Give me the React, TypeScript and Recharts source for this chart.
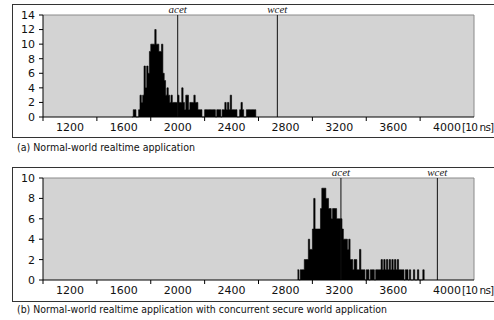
import React from 'react';
import { ComposedChart, Area, XAxis, YAxis, CartesianGrid, ReferenceLine } from 'recharts';

const BIN_WIDTH = 10;

const binStartA = 1660;
const countsA = [
  0, 1, 1, 0, 0, 1, 3, 2, 3, 7,
  4, 7, 6, 9, 10, 10, 10, 12, 10, 10,
  9, 9, 10, 6, 5, 3, 4, 3, 2, 3,
  2, 2, 2, 2, 3, 2, 2, 4, 2, 1,
  3, 3, 1, 2, 2, 2, 3, 2, 2, 1,
  1, 1, 0, 0, 1, 1, 1, 1, 1, 1,
  1, 1, 0, 1, 1, 1, 0, 1, 1, 2,
  1, 2, 1, 3, 1, 1, 1, 1, 0, 0,
  1, 2, 1, 0, 0, 1, 1, 1, 1, 1,
  1, 1,
];

const binStartB = 2890;
const countsB = [
  1, 0, 1, 1, 1, 2, 2, 2, 4, 3,
  3, 5, 8, 5, 5, 5, 5, 7, 9, 9,
  9, 8, 8, 7, 7, 6, 7, 7, 7, 6,
  6, 6, 6, 5, 4, 4, 4, 3, 4, 2,
  2, 1, 2, 2, 1, 1, 3, 1, 1, 1,
  0, 1, 1, 0, 1, 1, 1, 0, 1, 1,
  1, 1, 2, 1, 2, 1, 2, 1, 2, 1,
  2, 1, 2, 1, 2, 1, 1, 1, 1, 0,
  1, 1, 0, 1, 0, 0, 1, 0, 0, 1,
  0, 0, 0, 1,
];

const xDomain: [number, number] = [1000, 4200];
const xTickValues = [1000, 1200, 1400, 1600, 1800, 2000, 2200, 2400, 2600, 2800, 3000, 3200, 3400, 3600, 3800, 4000, 4200];
const xLabelValues = [1200, 1600, 2000, 2400, 2800, 3200, 3600, 4000];
const xMarkValues = [1000, 1400, 1800, 2200, 2600, 3000, 3400, 3800];
const unitTickValue = 4200;
const unitLabel = '[10 ns]';

const yTicksA = [0, 2, 4, 6, 8, 10, 12, 14];
const yTicksB = [0, 2, 4, 6, 8, 10];

const acetA = 2000;
const wcetA = 2740;
const acetB = 3212;
const wcetB = 3928;

const captionA = '(a) Normal-world realtime application';
const captionB = '(b) Normal-world realtime application with concurrent secure world application';

// step histogram rows: each bin starts at its edge; a closing row ends the last bin
const toRows = (start: number, counts: number[]) => {
  const rows = counts.map((n, i) => ({ t: start + i * BIN_WIDTH, n }));
  rows.push({ t: start + counts.length * BIN_WIDTH, n: 0 });
  return rows;
};

const dataA = toRows(binStartA, countsA);
const dataB = toRows(binStartB, countsB);

const SANS = 'DejaVu Sans';

const XTick = (props: any) => {
  const { x, y, payload } = props;
  const v = payload.value;
  const axisY = y - 7;
  if (xMarkValues.includes(v)) {
    return <line x1={x} x2={x} y1={axisY} y2={axisY + 4} stroke="#000" strokeWidth={1} />;
  }
  if (xLabelValues.includes(v)) {
    return (
      <text x={x} y={axisY + 14} textAnchor="middle" fontSize={11} fontFamily={SANS} fill="#111">
        {v}
      </text>
    );
  }
  if (v === unitTickValue) {
    return (
      <text x={x - 12} y={axisY + 14} fontSize={10.5} fontFamily={SANS} fill="#111" letterSpacing={-0.8}>
        {unitLabel}
      </text>
    );
  }
  return <g />;
};

const RefTag = (props: any) => {
  const { viewBox, text } = props;
  if (!viewBox) return null;
  return (
    <text x={viewBox.x} y={viewBox.y - 2} textAnchor="middle" fontStyle="italic" fontFamily="Liberation Serif" fontSize={11} fill="#222">
      {text}
    </text>
  );
};

const Panel = ({ data, yMax, yTicks, acet, wcet }: any) => (
  <ComposedChart width={494} height={140} data={data} margin={{ top: 15, right: 20, bottom: 0, left: 0 }}>
    <CartesianGrid fill="#d3d3d3" horizontal={false} vertical={false} />
    <XAxis
      dataKey="t"
      type="number"
      domain={xDomain}
      ticks={xTickValues}
      interval={0}
      height={23}
      tickLine={false}
      tickSize={4}
      tickMargin={3}
      axisLine={{ stroke: '#000', strokeWidth: 1 }}
      tick={<XTick />}
    />
    <YAxis
      type="number"
      domain={[0, yMax]}
      ticks={yTicks}
      interval={0}
      width={43}
      tickSize={4}
      tickMargin={4}
      axisLine={{ stroke: '#000', strokeWidth: 1 }}
      tickLine={{ stroke: '#000', strokeWidth: 1 }}
      tick={{ fontSize: 11, fill: '#111', fontFamily: SANS }}
    />
    <ReferenceLine y={yMax} stroke="#8a8a8a" strokeWidth={1} />
    <ReferenceLine x={xDomain[1]} stroke="#8a8a8a" strokeWidth={1} />
    <Area
      dataKey="n"
      type="stepAfter"
      fill="#000"
      fillOpacity={1}
      stroke="#000"
      strokeWidth={0.6}
      dot={false}
      activeDot={false}
      isAnimationActive={false}
    />
    <ReferenceLine x={acet} stroke="#111" strokeWidth={1} label={<RefTag text="acet" />} />
    <ReferenceLine x={wcet} stroke="#111" strokeWidth={1} label={<RefTag text="wcet" />} />
  </ComposedChart>
);

export default function App() {
  return (
    <div style={{ position: 'absolute', left: 0, top: 0, width: 494, height: 320, overflow: 'hidden', background: '#fff' }}>
      <div style={{ position: 'absolute', left: 12, top: 4, width: 490, height: 134, boxSizing: 'border-box', borderTop: '1px solid #333', borderLeft: '1px solid #333', borderBottom: '1px solid #333' }} />
      <div style={{ position: 'absolute', left: 12, top: 167, width: 490, height: 135, boxSizing: 'border-box', borderTop: '1px solid #333', borderLeft: '1px solid #333', borderBottom: '1px solid #333' }} />
      <div style={{ position: 'absolute', left: 0, top: 0 }}>
        <Panel data={dataA} yMax={14} yTicks={yTicksA} acet={acetA} wcet={wcetA} />
      </div>
      <div style={{ position: 'absolute', left: 0, top: 163 }}>
        <Panel data={dataB} yMax={10} yTicks={yTicksB} acet={acetB} wcet={wcetB} />
      </div>
      <svg style={{ position: 'absolute', left: 0, top: 0 }} width={494} height={320}>
        <text x={17} y={151} fontSize={11} fontFamily={SANS} fill="#111" textLength={178} lengthAdjust="spacingAndGlyphs">
          {captionA}
        </text>
        <text x={17} y={313} fontSize={11} fontFamily={SANS} fill="#111" textLength={370} lengthAdjust="spacingAndGlyphs">
          {captionB}
        </text>
      </svg>
    </div>
  );
}
